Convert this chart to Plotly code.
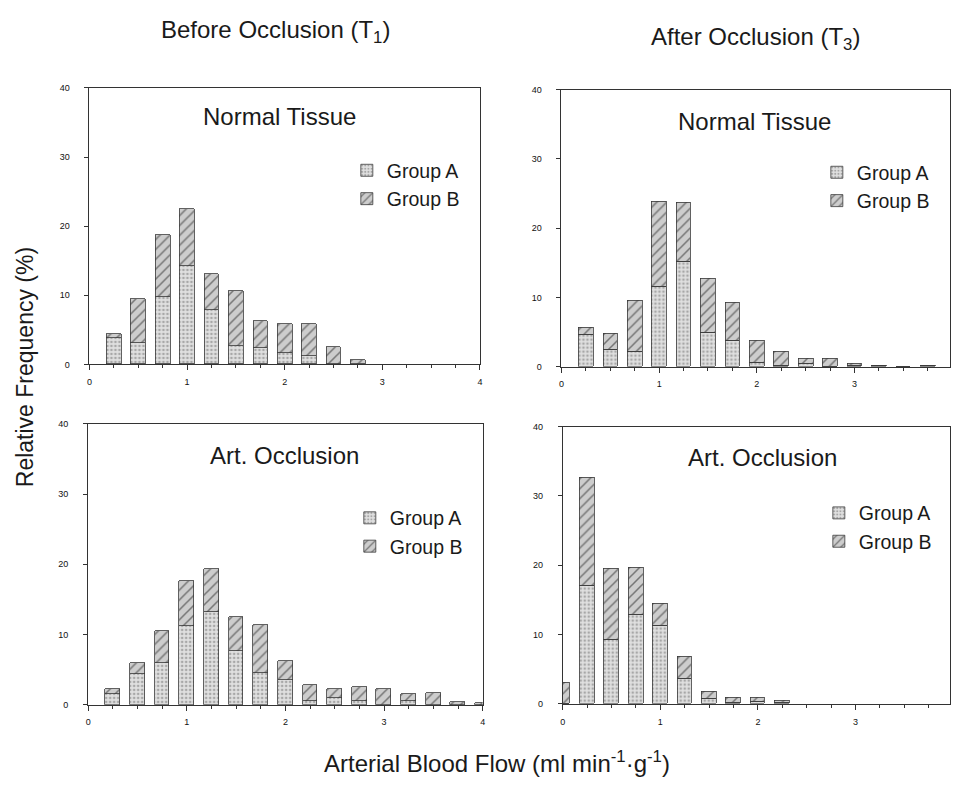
import plotly.graph_objects as go

W, H = 953, 787

# ---- data ----
flow_before_normal = [0.25, 0.5, 0.75, 1.0, 1.25, 1.5, 1.75, 2.0, 2.25, 2.5, 2.75]
grpA_before_normal = [3.8, 3.1, 9.7, 14.2, 7.9, 2.7, 2.4, 1.6, 1.2, 0.0, 0.0]
grpB_before_normal = [0.6, 6.3, 9.1, 8.3, 5.2, 7.9, 3.9, 4.3, 4.7, 2.5, 0.6]

flow_after_normal = [0.25, 0.5, 0.75, 1.0, 1.25, 1.5, 1.75, 2.0, 2.25, 2.5, 2.75, 3.0, 3.25, 3.5, 3.75]
grpA_after_normal = [4.6, 2.5, 2.2, 11.5, 15.2, 4.9, 3.8, 0.6, 0.2, 0.4, 0.0, 0.2, 0.1, 0.0, 0.1]
grpB_after_normal = [1.0, 2.2, 7.4, 12.3, 8.5, 7.8, 5.5, 3.1, 1.9, 0.7, 1.1, 0.3, 0.1, 0.0, 0.1]

flow_before_occl = [0.25, 0.5, 0.75, 1.0, 1.25, 1.5, 1.75, 2.0, 2.25, 2.5, 2.75, 3.0, 3.25, 3.5, 3.75, 4.0]
grpA_before_occl = [1.5, 4.4, 6.0, 11.2, 13.2, 7.7, 4.5, 3.6, 0.5, 1.0, 0.5, 0.0, 0.5, 0.0, 0.0, 0.0]
grpB_before_occl = [0.7, 1.6, 4.5, 6.4, 6.2, 4.8, 6.9, 2.6, 2.3, 1.3, 2.1, 2.3, 1.1, 1.7, 0.4, 0.2]

flow_after_occl = [0.0, 0.25, 0.5, 0.75, 1.0, 1.25, 1.5, 1.75, 2.0, 2.25]
grpA_after_occl = [0.0, 17.0, 9.2, 12.9, 11.3, 3.6, 0.8, 0.2, 0.3, 0.2]
grpB_after_occl = [3.1, 15.7, 10.3, 6.7, 3.2, 3.2, 1.0, 0.75, 0.65, 0.3]

x_ticks = [0, 1, 2, 3, 4]
y_ticks = [0, 10, 20, 30, 40]
series_names = ["Group A", "Group B"]
panel_titles = ["Normal Tissue", "Normal Tissue", "Art. Occlusion", "Art. Occlusion"]
column_titles = ["Before Occlusion (T<sub>1</sub>)", "After Occlusion (T<sub>3</sub>)"]
y_title = "Relative Frequency (%)"
x_title = "Arterial Blood Flow (ml min<sup>-1</sup>·g<sup>-1</sup>)"

FONT = "Liberation Sans, Arial, Helvetica, sans-serif"

panels = [
    (flow_before_normal, grpA_before_normal, grpB_before_normal),
    (flow_after_normal, grpA_after_normal, grpB_after_normal),
    (flow_before_occl, grpA_before_occl, grpB_before_occl),
    (flow_after_occl, grpA_after_occl, grpB_after_occl),
]

# pixel layout of each plot area: (left, right, top, bottom, xmax)
boxes = [
    (87.0, 480.0, 84.0, 364.0, 4.0),
    (562.0, 953.0, 85.7, 366.3, (953 - 562) / 98.3),
    (85.7, 482.7, 424.3, 708.7, 4.0),
    (563.3, 953.0, 427.0, 707.7, (953 - 563.3) / 98.2),
]

styleA = dict(shape=".", fgcolor="#6e6e6e", bgcolor="#e0e0e0", size=4, solidity=0.35)
styleB = dict(shape="/", fgcolor="#1e1e1e", bgcolor="#cdcdcd", size=7, solidity=0.22)

fig = go.Figure()
legend_names = ["legend", "legend2", "legend3", "legend4"]

for i, (xs, a, b) in enumerate(panels):
    ax = "" if i == 0 else str(i + 1)
    for name, vals, st in ((series_names[0], a, styleA), (series_names[1], b, styleB)):
        fig.add_trace(go.Bar(
            x=xs, y=vals, name=name, width=0.15,
            xaxis="x" + ax, yaxis="y" + ax,
            legend=legend_names[i],
            marker=dict(color=st["bgcolor"], pattern=st,
                        line=dict(color="#3a3a3a", width=0.8)),
        ))

layout = dict(
    width=W, height=H,
    margin=dict(l=0, r=0, t=0, b=0),
    paper_bgcolor="white", plot_bgcolor="white",
    barmode="stack", bargap=0,
    font=dict(family=FONT, color="#1a1a1a"),
    showlegend=True,
)

# legends: (text-left px, top px)
legend_pos = [(390, 148), (863, 150), (393, 500), (865, 495)]

for i, (l, r, t, b, xmax) in enumerate(boxes):
    ax = "" if i == 0 else str(i + 1)
    layout["xaxis" + ax] = dict(
        domain=[l / W, r / W], range=[0, xmax], anchor="y" + ax,
        tickvals=x_ticks, ticks="outside", ticklen=5, tickwidth=1, tickcolor="#333",
        minor=dict(dtick=0.25, tick0=0, ticks="outside", ticklen=3, tickcolor="#333"),
        showline=True, linecolor="#333", linewidth=1, mirror=True,
        showgrid=False, zeroline=False,
        tickfont=dict(size=9, family=FONT, color="#111"), ticklabelstandoff=4,
        fixedrange=True,
    )
    layout["yaxis" + ax] = dict(
        domain=[1 - b / H, 1 - t / H], range=[0, 40], anchor="x" + ax,
        tickvals=y_ticks, ticks="outside", ticklen=4, tickwidth=1, tickcolor="#333",
        showline=True, linecolor="#333", linewidth=1, mirror=True,
        showgrid=False, zeroline=False,
        tickfont=dict(size=9, family=FONT, color="#111"), ticklabelstandoff=13,
        fixedrange=True,
    )
    lx, ly = legend_pos[i]
    layout[legend_names[i]] = dict(
        x=(lx - 44) / W, y=1 - ly / H, xanchor="left", yanchor="top",
        xref="paper", yref="paper",
        bgcolor="rgba(0,0,0,0)", borderwidth=0,
        font=dict(size=19.5, family=FONT, color="#1a1a1a"),
        itemwidth=30, traceorder="normal", tracegroupgap=0,
    )

annotations = []
title_pos = [(278, 113), (756, 118), (283, 456), (764, 458)]
for txt, (px, py) in zip(panel_titles, title_pos):
    annotations.append(dict(text=txt, x=px / W, y=1 - py / H, xref="paper", yref="paper",
                            showarrow=False, xanchor="center", yanchor="middle",
                            font=dict(size=24, family=FONT, color="#1a1a1a")))
for txt, (px, py) in zip(column_titles, [(274, 27), (757, 34)]):
    annotations.append(dict(text=txt, x=px / W, y=1 - py / H, xref="paper", yref="paper",
                            showarrow=False, xanchor="center", yanchor="middle",
                            font=dict(size=24, family=FONT, color="#1a1a1a")))
annotations.append(dict(text=y_title, x=22 / W, y=1 - 367 / H, xref="paper", yref="paper",
                        showarrow=False, xanchor="center", yanchor="middle", textangle=-90,
                        font=dict(size=23, family=FONT, color="#1a1a1a")))
annotations.append(dict(text=x_title, x=497 / W, y=1 - 767 / H, xref="paper", yref="paper",
                        showarrow=False, xanchor="center", yanchor="middle",
                        font=dict(size=24, family=FONT, color="#1a1a1a")))
layout["annotations"] = annotations

fig.update_layout(**layout)
fig.write_html("out.html")
